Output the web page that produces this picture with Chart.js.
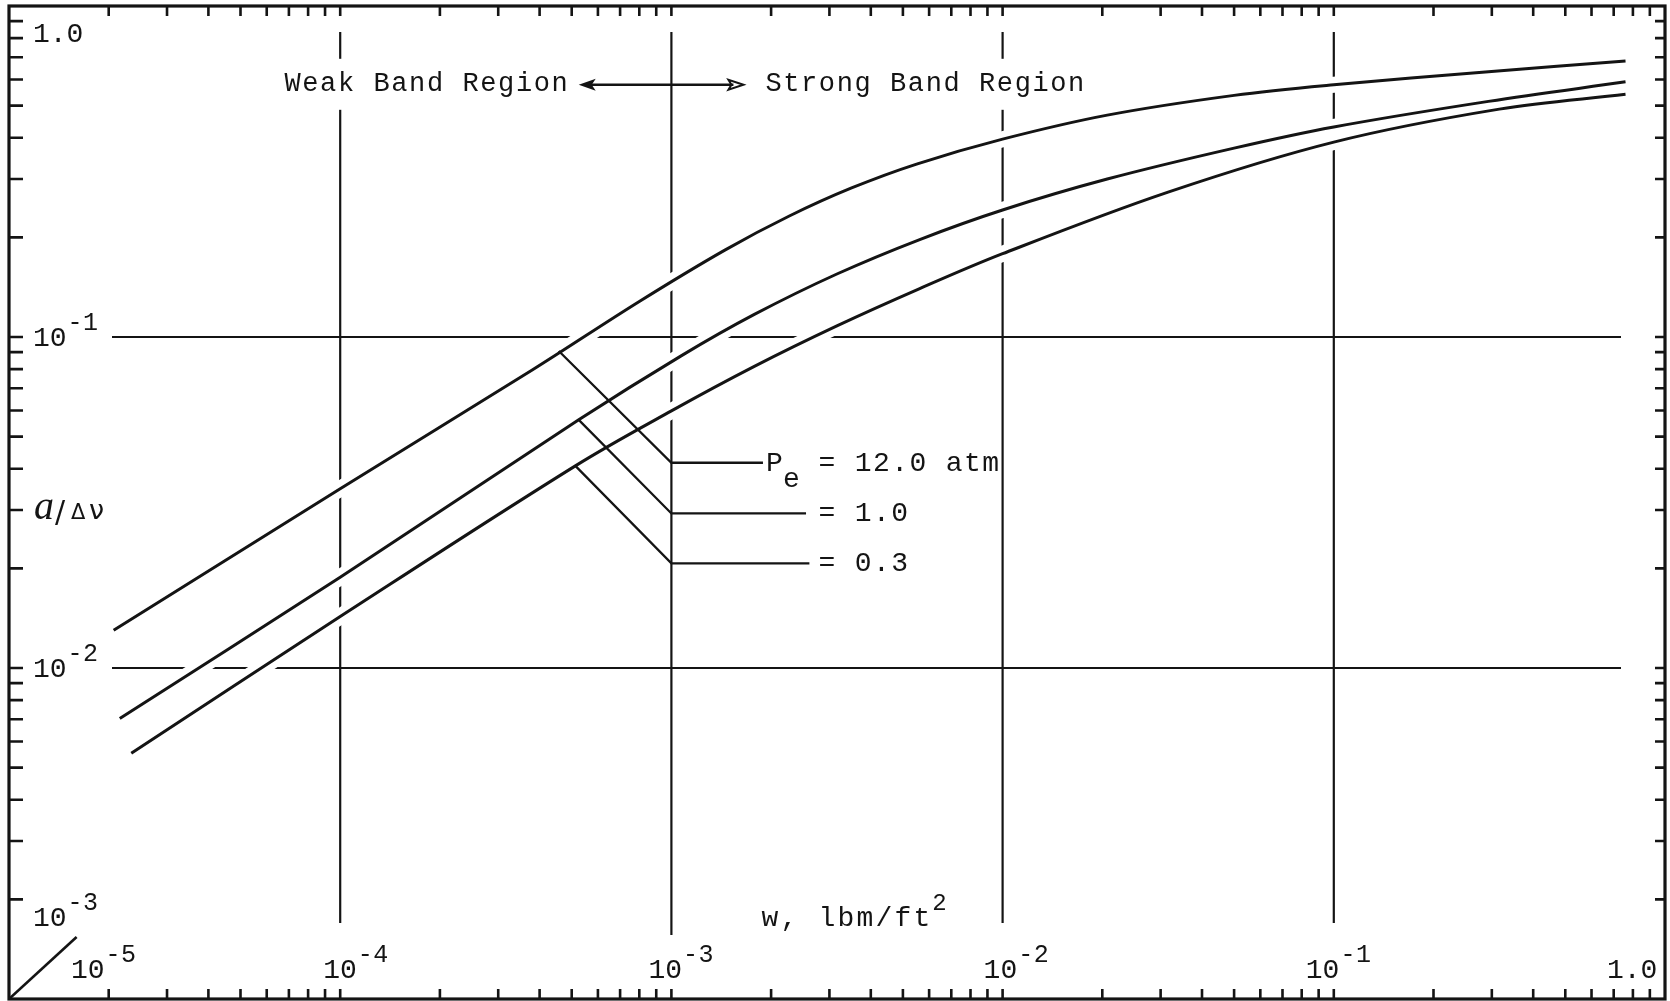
<!DOCTYPE html>
<html><head><meta charset="utf-8">
<script src="https://cdn.jsdelivr.net/npm/chart.js@4.4.0/dist/chart.umd.min.js"></script>
<style>html,body{margin:0;padding:0;background:#fff;overflow:hidden}#wrap{width:1670px;height:1001px;position:relative}</style>
</head><body><div id="wrap"><canvas id="c"></canvas></div>
<script>
// ---- data ----
const pressureLabels = ['12.0 atm', '1.0', '0.3'];

const w_p12 = [2.07e-5, 1.0e-4, 3.81e-4, 8.0e-4, 1.45e-3, 2.27e-3, 3.5e-3, 5.5e-3, 1.0e-2, 2.07e-2, 5.0e-2, 1.0e-1, 2.93e-1, 7.6e-1];
const a_p12 = [0.0130, 0.0348, 0.0796, 0.128, 0.183, 0.232, 0.282, 0.333, 0.396, 0.468, 0.537, 0.578, 0.633, 0.682];

const w_p1 = [2.16e-5, 1.0e-4, 5.25e-4, 1.07e-3, 1.78e-3, 3.16e-3, 5.62e-3, 1.0e-2, 2.07e-2, 5.0e-2, 1.0e-1, 2.93e-1, 7.6e-1];
const a_p1 = [0.00704, 0.0188, 0.0562, 0.0877, 0.117, 0.155, 0.197, 0.242, 0.300, 0.372, 0.431, 0.515, 0.590];

const w_p03 = [2.34e-5, 1.0e-4, 5.13e-4, 1.0e-3, 1.78e-3, 3.16e-3, 5.62e-3, 1.0e-2, 3.16e-2, 1.0e-1, 3.16e-1, 7.6e-1];
const a_p03 = [0.00553, 0.0143, 0.0408, 0.0598, 0.0815, 0.108, 0.140, 0.1785, 0.274, 0.388, 0.488, 0.541];

// leader lines (curve point -> corner on w = 1e-3 -> label)
const leader_p12_w = [4.57e-4, 1.0e-3, 1.89e-3];
const leader_p12_a = [0.0907, 0.0417, 0.0417];
const leader_p1_w = [5.26e-4, 1.0e-3, 2.55e-3];
const leader_p1_a = [0.0561, 0.0293, 0.0293];
const leader_p03_w = [5.13e-4, 1.0e-3, 2.61e-3];
const leader_p03_a = [0.0408, 0.0207, 0.0207];

// weak / strong band arrow
const bandArrow_w = [5.25e-4, 1.65e-3];
const bandArrow_a = 0.578;

// corner mark
const corner_w = [1.0e-5, 1.6e-5];
const corner_a = [1.0e-3, 1.54e-3];

// axis decades and tick labels
const xDecades = [1e-5, 1e-4, 1e-3, 1e-2, 1e-1, 1];
const xTickBase = ['10', '10', '10', '10', '10', '1.0'];
const xTickSup = ['-5', '-4', '-3', '-2', '-1', ''];
const yDecades = [1e-3, 1e-2, 1e-1, 1];
const yTickBase = ['10', '10', '10', '1.0'];
const yTickSup = ['-3', '-2', '-1', ''];

const xTitle = 'w, lbm/ft';
const xTitleSup = '2';
const bandLeft = 'Weak Band Region';
const bandRight = 'Strong Band Region';

// ---- helpers ----
const pts = (ws, as) => ws.map((w, i) => ({x: w, y: as[i]}));
const INK = '#141414';
const MONO = '"Liberation Mono", "DejaVu Sans Mono", monospace';
const xLabelShift = [62, -17, -23, -19, -28, -58];   // label placement relative to the decade line

function curve(label, ws, as) {
  return {label, data: pts(ws, as), borderColor: INK, borderWidth: 3, pointRadius: 0,
    tension: 0.35, order: 1};
}
function halo(ws, as) {
  return {label: 'halo', data: pts(ws, as), borderColor: '#ffffff', borderWidth: 16, pointRadius: 0,
    tension: 0.35, order: 3, borderCapStyle: 'butt'};
}
function straight(label, ws, as, width) {
  return {label, data: pts(ws, as), borderColor: INK, borderWidth: width, pointRadius: 0,
    tension: 0, order: 2};
}

function txt(ctx, s, x, y, size, spacing, family, style) {
  ctx.font = (style ? style + ' ' : '') + size + 'px ' + (family || MONO);
  ctx.letterSpacing = (spacing || 0) + 'px';
  ctx.fillText(s, x, y);
  return x + ctx.measureText(s).width - (spacing || 0);
}
function supLabel(ctx, base, sup, x, y) {
  const e = txt(ctx, base, x, y, 28, 0);
  if (sup) txt(ctx, sup, e + 1, y - 16, 25, 0.5);
}

const paper = {
  id: 'paper',
  beforeDatasetsDraw(chart) {
    const {ctx, chartArea: ca, scales: {x, y}} = chart;
    ctx.save();
    ctx.strokeStyle = INK;
    ctx.lineWidth = 2.2;
    xDecades.slice(1, -1).forEach(v => {
      const px = x.getPixelForValue(v);
      ctx.beginPath();
      ctx.moveTo(px, ca.top + 26);
      ctx.lineTo(px, ca.bottom - (v === 1e-3 ? 64 : 76));
      ctx.stroke();
    });
    yDecades.slice(1, -1).forEach(v => {
      const py = y.getPixelForValue(v);
      ctx.beginPath();
      ctx.moveTo(ca.left + 103, py);
      ctx.lineTo(ca.right - 44, py);
      ctx.stroke();
    });
    ctx.restore();
  },
  afterDatasetsDraw(chart) {
    const {ctx, chartArea: ca, scales: {x, y}} = chart;
    ctx.save();
    ctx.strokeStyle = INK;
    ctx.fillStyle = INK;
    // frame
    ctx.lineWidth = 3.2;
    ctx.strokeRect(ca.left, ca.top, ca.right - ca.left, ca.bottom - ca.top);
    // ticks on all four sides
    ctx.lineWidth = 2.6;
    xDecades.slice(0, -1).forEach(d => {
      for (let k = 1; k <= 9; k++) {
        const v = d * k;
        if (v <= xDecades[0] * 1.0001) continue;
        const px = x.getPixelForValue(v);
        ctx.beginPath();
        ctx.moveTo(px, ca.bottom); ctx.lineTo(px, ca.bottom - 10);
        ctx.moveTo(px, ca.top); ctx.lineTo(px, ca.top + 10);
        ctx.stroke();
      }
    });
    yDecades.slice(0, -1).forEach(d => {
      for (let k = 1; k <= 9; k++) {
        const v = d * k;
        if (v <= yDecades[0] * 1.0001) continue;
        const py = y.getPixelForValue(v);
        ctx.beginPath();
        ctx.moveTo(ca.left, py); ctx.lineTo(ca.left + 14, py);
        ctx.moveTo(ca.right, py); ctx.lineTo(ca.right - 10, py);
        ctx.stroke();
      }
    });

    ctx.textBaseline = 'alphabetic';
    ctx.textAlign = 'left';
    // x tick labels
    xDecades.forEach((v, i) => {
      const px = x.getPixelForValue(v);
      supLabel(ctx, xTickBase[i], xTickSup[i], px + xLabelShift[i], ca.bottom - 21);
    });
    // y tick labels
    yDecades.forEach((v, i) => {
      const py = y.getPixelForValue(v);
      let by = py + 9;
      if (i === 0) by = py - 73;
      if (i === yDecades.length - 1) by = py + 36;
      supLabel(ctx, yTickBase[i], yTickSup[i], ca.left + 24, by);
    });
    // axis titles
    const tx = x.getPixelForValue(1e-3) + 90;
    const te = txt(ctx, xTitle, tx, ca.bottom - 73, 28, 2.2);
    txt(ctx, xTitleSup, te + 2, ca.bottom - 89, 24, 0);
    const ay = y.getPixelForValue(0.0293) + 6;
    txt(ctx, 'a', ca.left + 25, ay, 40, 0, '"Liberation Serif", serif', 'italic');
    txt(ctx, '/', ca.left + 46, ay + 3, 30, 0, '"DejaVu Sans", sans-serif');
    txt(ctx, 'Δ', ca.left + 62, ay, 21, 0, '"DejaVu Sans", sans-serif');
    txt(ctx, 'ν', ca.left + 80, ay, 27, 0, '"DejaVu Sans", sans-serif');

    // band arrow
    const ax0 = x.getPixelForValue(bandArrow_w[0]);
    const ax1 = x.getPixelForValue(bandArrow_w[1]);
    const ayA = y.getPixelForValue(bandArrow_a);
    ctx.lineWidth = 2.6;
    ctx.beginPath(); ctx.moveTo(ax0 + 8, ayA); ctx.lineTo(ax1 - 10, ayA); ctx.stroke();
    ctx.beginPath(); ctx.moveTo(ax0, ayA); ctx.lineTo(ax0 + 17, ayA - 6); ctx.lineTo(ax0 + 13, ayA); ctx.lineTo(ax0 + 17, ayA + 6); ctx.closePath(); ctx.fill();
    ctx.lineWidth = 2;
    ctx.beginPath(); ctx.moveTo(ax1, ayA); ctx.lineTo(ax1 - 15, ayA - 5); ctx.lineTo(ax1 - 12, ayA); ctx.lineTo(ax1 - 15, ayA + 5); ctx.closePath(); ctx.stroke();

    // band texts with clean paper behind
    ctx.font = '27px ' + MONO; ctx.letterSpacing = '1.6px';
    const wl = ctx.measureText(bandLeft).width - 1.6;
    const wr = ctx.measureText(bandRight).width - 1.6;
    const lx = ax0 - 11 - wl;
    const rx = ax1 + 22;
    ctx.fillStyle = '#fff';
    ctx.fillRect(lx - 2, ayA - 26, wl + 4, 51);
    ctx.fillRect(rx - 2, ayA - 26, wr + 4, 51);
    ctx.fillStyle = INK;
    txt(ctx, bandLeft, lx, ayA + 6, 27, 1.6);
    txt(ctx, bandRight, rx, ayA + 6, 27, 1.6);

    // pressure labels
    const lblX = x.getPixelForValue(1e-3) + 147;
    const y12 = y.getPixelForValue(leader_p12_a[2]) + 8;
    const pX = x.getPixelForValue(leader_p12_w[2]) + 3;
    txt(ctx, 'P', pX, y12, 28, 0);
    txt(ctx, 'e', pX + 17, y12 + 16, 28, 0);
    txt(ctx, '= ' + pressureLabels[0], lblX, y12, 28, 1.4);
    txt(ctx, '= ' + pressureLabels[1], lblX, y.getPixelForValue(leader_p1_a[2]) + 8, 28, 1.4);
    txt(ctx, '= ' + pressureLabels[2], lblX, y.getPixelForValue(leader_p03_a[2]) + 8, 28, 1.4);
    ctx.restore();
  }
};

new Chart(document.getElementById('c'), {
  type: 'line',
  data: {
    datasets: [
      curve('Pe = 12.0 atm', w_p12, a_p12),
      curve('Pe = 1.0', w_p1, a_p1),
      curve('Pe = 0.3', w_p03, a_p03),
      straight('leader 12.0', leader_p12_w, leader_p12_a, 2.3),
      straight('leader 1.0', leader_p1_w, leader_p1_a, 2.3),
      straight('leader 0.3', leader_p03_w, leader_p03_a, 2.3),
      straight('corner', corner_w, corner_a, 2.6),
      halo(w_p12, a_p12),
      halo(w_p1, a_p1),
      halo(w_p03, a_p03)
    ]
  },
  options: {
    responsive: true,
    maintainAspectRatio: false,
    animation: false,
    events: [],
    layout: {padding: {left: 9, right: 5, top: 6, bottom: 2}},
    plugins: {legend: {display: false}, tooltip: {enabled: false}},
    scales: {
      x: {type: 'logarithmic', min: xDecades[0], max: xDecades[xDecades.length - 1], display: false},
      y: {type: 'logarithmic', min: yDecades[0], max: yDecades[yDecades.length - 1], display: false}
    }
  },
  plugins: [paper]
});
</script>
</body></html>
